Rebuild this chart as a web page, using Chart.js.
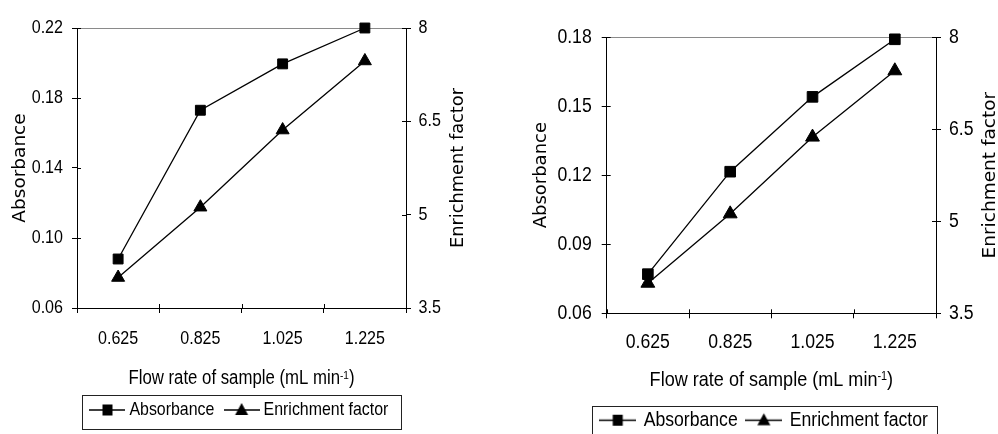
<!DOCTYPE html>
<html><head><meta charset="utf-8">
<script src="https://cdn.jsdelivr.net/npm/chart.js@4.4.1/dist/chart.umd.min.js"></script>
<style>
html,body{margin:0;padding:0;background:#fff;overflow:hidden;width:998px;height:434px;position:relative;}
#c1{position:absolute;left:0;top:0;width:483px;height:434px;}
#c2{position:absolute;left:524px;top:0;width:474px;height:441px;}
</style></head><body>
<canvas id="c1" width="483" height="434"></canvas>
<canvas id="c2" width="474" height="441"></canvas>
<script>
// ---------- data ----------
const flowRates = ['0.625', '0.825', '1.025', '1.225'];
const seriesLabels = ['Absorbance', 'Enrichment factor'];
const absorbanceLeft = [0.088, 0.173, 0.1995, 0.22];
const enrichmentLeft = [3.99, 5.12, 6.36, 7.47];
const absorbanceRight = [0.077, 0.1215, 0.154, 0.179];
const enrichmentRight = [3.99, 5.12, 6.37, 7.45];
const absTicksLeft = [0.06, 0.10, 0.14, 0.18, 0.22];
const absTicksRight = [0.06, 0.09, 0.12, 0.15, 0.18];
const efTicks = [3.5, 5, 6.5, 8];
const yLeftTitle = 'Absorbance';
const yRightTitle = 'Enrichment factor';
const xTitleMain = 'Flow rate of sample (mL min';
const xTitleSup = '-1';
const xTitleEnd = ')';

const SANS = "'Liberation Sans', Arial, sans-serif";
const WIDE = "'DejaVu Sans', 'Liberation Sans', sans-serif";
const CONDENSE = 0.86; // horizontal text in the reference is condensed
Chart.defaults.color = '#000';
Chart.defaults.font.family = SANS;

// horizontal (unrotated) text is drawn condensed; rotated titles are left as is
function condense(canvas, K) {
  const g = canvas.getContext('2d');
  const fill = g.fillText.bind(g), meas = g.measureText.bind(g);
  const rotated = () => { const m = g.getTransform(); return Math.abs(m.b) > 1e-6 || Math.abs(m.c) > 1e-6; };
  g.fillText = function (t, x, y, mw) {
    if (rotated()) { return mw === undefined ? fill(t, x, y) : fill(t, x, y, mw); }
    g.save(); g.translate(x, y); g.scale(K, 1);
    if (mw === undefined) fill(t, 0, 0); else fill(t, 0, 0, mw / K);
    g.restore();
  };
  g.measureText = function (t) {
    const r = meas(t);
    if (rotated()) return r;
    return {
      width: r.width * K,
      actualBoundingBoxAscent: r.actualBoundingBoxAscent,
      actualBoundingBoxDescent: r.actualBoundingBoxDescent,
      actualBoundingBoxLeft: r.actualBoundingBoxLeft * K,
      actualBoundingBoxRight: r.actualBoundingBoxRight * K,
      fontBoundingBoxAscent: r.fontBoundingBoxAscent,
      fontBoundingBoxDescent: r.fontBoundingBoxDescent
    };
  };
}

function legendIcon(kind, w, h) {
  const c = document.createElement('canvas');
  c.width = w; c.height = h;
  const g = c.getContext('2d');
  g.strokeStyle = '#000'; g.lineWidth = 1.3;
  g.beginPath(); g.moveTo(0, h / 2); g.lineTo(w, h / 2); g.stroke();
  g.fillStyle = '#000';
  if (kind === 'rect') {
    g.fillRect(w / 2 - 5, h / 2 - 5.5, 10, 11);
  } else {
    g.beginPath();
    g.moveTo(w / 2, h / 2 - 7);
    g.lineTo(w / 2 + 6.5, h / 2 + 5);
    g.lineTo(w / 2 - 6.5, h / 2 + 5);
    g.closePath(); g.fill();
  }
  return c;
}

const decor = {
  id: 'decor',
  afterDraw(chart, args, o) {
    const {ctx, chartArea: ca, scales} = chart;
    ctx.save();
    ctx.strokeStyle = '#000';
    ctx.lineWidth = 1;
    const seg = (x1, y1, x2, y2) => { ctx.beginPath(); ctx.moveTo(x1, y1); ctx.lineTo(x2, y2); ctx.stroke(); };
    // inner halves of the crossing tick marks
    const xs = scales.x;
    for (let i = 0; i <= chart.data.labels.length; i++) {
      const px = Math.round(xs.getPixelForValue(i - 0.5)) + 0.5;
      seg(px, ca.bottom, px, ca.bottom - o.innerTick);
    }
    scales.yA.ticks.forEach(t => {
      const py = Math.round(scales.yA.getPixelForValue(t.value)) + 0.5;
      seg(ca.left, py, ca.left + o.innerTick, py);
    });
    scales.yB.ticks.forEach(t => {
      const py = Math.round(scales.yB.getPixelForValue(t.value)) + 0.5;
      seg(ca.right, py, ca.right - o.innerTick, py);
    });
    // x axis title with superscript
    ctx.fillStyle = '#000';
    ctx.textBaseline = 'alphabetic';
    ctx.textAlign = 'left';
    const f = o.xTitleFont;
    const big = `${f}px ${SANS}`, small = `${f * 0.6}px ${SANS}`;
    ctx.font = big; const w1 = ctx.measureText(xTitleMain).width; const w3 = ctx.measureText(xTitleEnd).width;
    ctx.font = small; const w2 = ctx.measureText(xTitleSup).width;
    const x0 = (ca.left + ca.right) / 2 - (w1 + w2 + w3) / 2;
    const by = ca.bottom + o.xTitleDy;
    ctx.font = big; ctx.fillText(xTitleMain, x0, by);
    ctx.font = small; ctx.fillText(xTitleSup, x0 + w1, by - 0.28 * f);
    ctx.font = big; ctx.fillText(xTitleEnd, x0 + w1 + w2, by);
    // secondary axis title (reads bottom to top)
    ctx.save();
    ctx.translate(ca.right + o.rTitleDx, (ca.top + ca.bottom) / 2);
    ctx.rotate(-Math.PI / 2);
    ctx.textAlign = 'center'; ctx.textBaseline = 'middle';
    ctx.font = `${o.rTitleFont}px ${WIDE}`;
    ctx.fillText(yRightTitle, 0, 0);
    ctx.restore();
    // legend frame
    const hb = chart.legend.legendHitBoxes;
    if (hb && hb.length) {
      const a = hb[0], b = hb[hb.length - 1];
      const cy = a.top + a.height / 2;
      const left = a.left + o.psw / 2 - o.iconW / 2 - o.box.l;
      const right = b.left + b.width + o.box.r;
      ctx.strokeStyle = '#222';
      ctx.lineWidth = 1;
      ctx.strokeRect(Math.round(left) + 0.5, Math.round(cy - o.box.t) + 0.5,
                     Math.round(right - left), Math.round(o.box.t + o.box.b));
    }
    ctx.restore();
  }
};

function makeChart(id, abs, ef, absTicks, s) {
  const canvas = document.getElementById(id);
  condense(canvas, CONDENSE);
  const icons = [legendIcon('rect', s.iconW, s.iconH), legendIcon('triangle', s.iconW, s.iconH)];
  const common = {
    borderColor: '#000', backgroundColor: '#000', borderWidth: 1.3,
    pointBackgroundColor: '#000', pointBorderColor: '#000', pointBorderWidth: 1,
    tension: 0, clip: false, fill: false
  };
  const absMax = absTicks[absTicks.length - 1];
  return new Chart(canvas, {
    type: 'line',
    data: {
      labels: flowRates,
      datasets: [
        Object.assign({label: seriesLabels[0], data: abs, yAxisID: 'yA', pointStyle: 'rect',
          pointRadius: s.sq, pointHoverRadius: s.sq}, common),
        Object.assign({label: seriesLabels[1], data: ef, yAxisID: 'yB', pointStyle: 'triangle',
          pointRadius: s.tri, pointHoverRadius: s.tri}, common)
      ]
    },
    options: {
      responsive: false, animation: false, devicePixelRatio: 1, events: [],
      layout: {padding: {top: s.padTop, left: s.padLeft, right: 0, bottom: s.padBottom}},
      scales: {
        x: {
          type: 'category', offset: true,
          grid: {offset: true, drawOnChartArea: false, color: '#000', tickLength: 5, lineWidth: 1},
          border: {color: '#000', width: 1},
          ticks: {font: {size: s.tickFont}, padding: s.xTickPad, maxRotation: 0, autoSkip: false},
          afterFit: sc => { sc.height = s.xHeight; }
        },
        yA: {
          type: 'linear', position: 'left',
          min: absTicks[0], max: absMax,
          afterBuildTicks: sc => { sc.ticks = absTicks.map(v => ({value: v})); },
          grid: {
            drawOnChartArea: true, tickLength: 5, tickColor: '#000',
            color: c => (c.tick && Math.abs(c.tick.value - absMax) < 1e-9) ? '#8a8a8a' : 'rgba(0,0,0,0)'
          },
          border: {color: '#000', width: 1},
          ticks: {font: {size: s.tickFont}, padding: s.yATickPad, callback: v => Number(v).toFixed(2)},
          title: {display: true, text: yLeftTitle, font: {family: WIDE, size: s.yTitleFont, lineHeight: s.yATitleLH},
                  padding: {top: s.yATitlePad, bottom: 0}, color: '#000'},
          afterFit: sc => { sc.width = s.yAWidth; }
        },
        yB: {
          type: 'linear', position: 'right',
          min: efTicks[0], max: efTicks[efTicks.length - 1],
          afterBuildTicks: sc => { sc.ticks = efTicks.map(v => ({value: v})); },
          grid: {drawOnChartArea: false, tickLength: 5, color: '#000'},
          border: {color: '#000', width: 1},
          ticks: {font: {size: s.tickFont}, padding: s.yBTickPad, callback: v => String(v)},
          afterFit: sc => { sc.width = s.yBWidth; }
        }
      },
      plugins: {
        tooltip: {enabled: false},
        legend: {
          display: true, position: 'bottom',
          labels: {
            usePointStyle: true, pointStyleWidth: s.psw, padding: s.legendPad,
            font: {size: s.legendFont}, color: '#000',
            generateLabels: chart => Chart.defaults.plugins.legend.labels.generateLabels(chart)
              .map((l, i) => Object.assign(l, {pointStyle: icons[i], rotation: 0}))
          }
        },
        decor: {
          innerTick: 4, xTitleFont: s.xTitleFont, xTitleDy: s.xTitleDy,
          rTitleDx: s.rTitleDx, rTitleFont: s.rTitleFont,
          psw: s.psw, iconW: s.iconW, box: s.box
        }
      }
    },
    plugins: [decor]
  });
}

makeChart('c1', absorbanceLeft, enrichmentLeft, absTicksLeft, {
  tickFont: 18.7, legendFont: 18.5, xTitleFont: 19.5, yTitleFont: 18.5, rTitleFont: 17.8,
  padTop: 28, padLeft: 0, padBottom: 4.75, yAWidth: 77, yBWidth: 77, xHeight: 78.25,
  yATickPad: 9, yBTickPad: 7.5, xTickPad: 14.3, yATitlePad: 9.2, yATitleLH: 1.2,
  legendPad: 14.5, psw: 25.5, iconW: 36, iconH: 16,
  xTitleDy: 76.3, rTitleDx: 52.8, box: {l: 7, r: 13, t: 15, b: 19},
  sq: 7, tri: 7.5
});
makeChart('c2', absorbanceRight, enrichmentRight, absTicksRight, {
  tickFont: 20.5, legendFont: 20.5, xTitleFont: 21, yTitleFont: 18, rTitleFont: 18.5,
  padTop: 37, padLeft: 8, padBottom: 0.5, yAWidth: 74.7, yBWidth: 62, xHeight: 86.2,
  yATickPad: 10, yBTickPad: 8, xTickPad: 11.4, yATitlePad: 0, yATitleLH: 1,
  legendPad: 10.5, psw: 31.3, iconW: 37, iconH: 17,
  xTitleDy: 72.7, rTitleDx: 54.5, box: {l: 7.7, r: 9, t: 14.5, b: 19},
  sq: 7.5, tri: 8
});
</script>
</body></html>
